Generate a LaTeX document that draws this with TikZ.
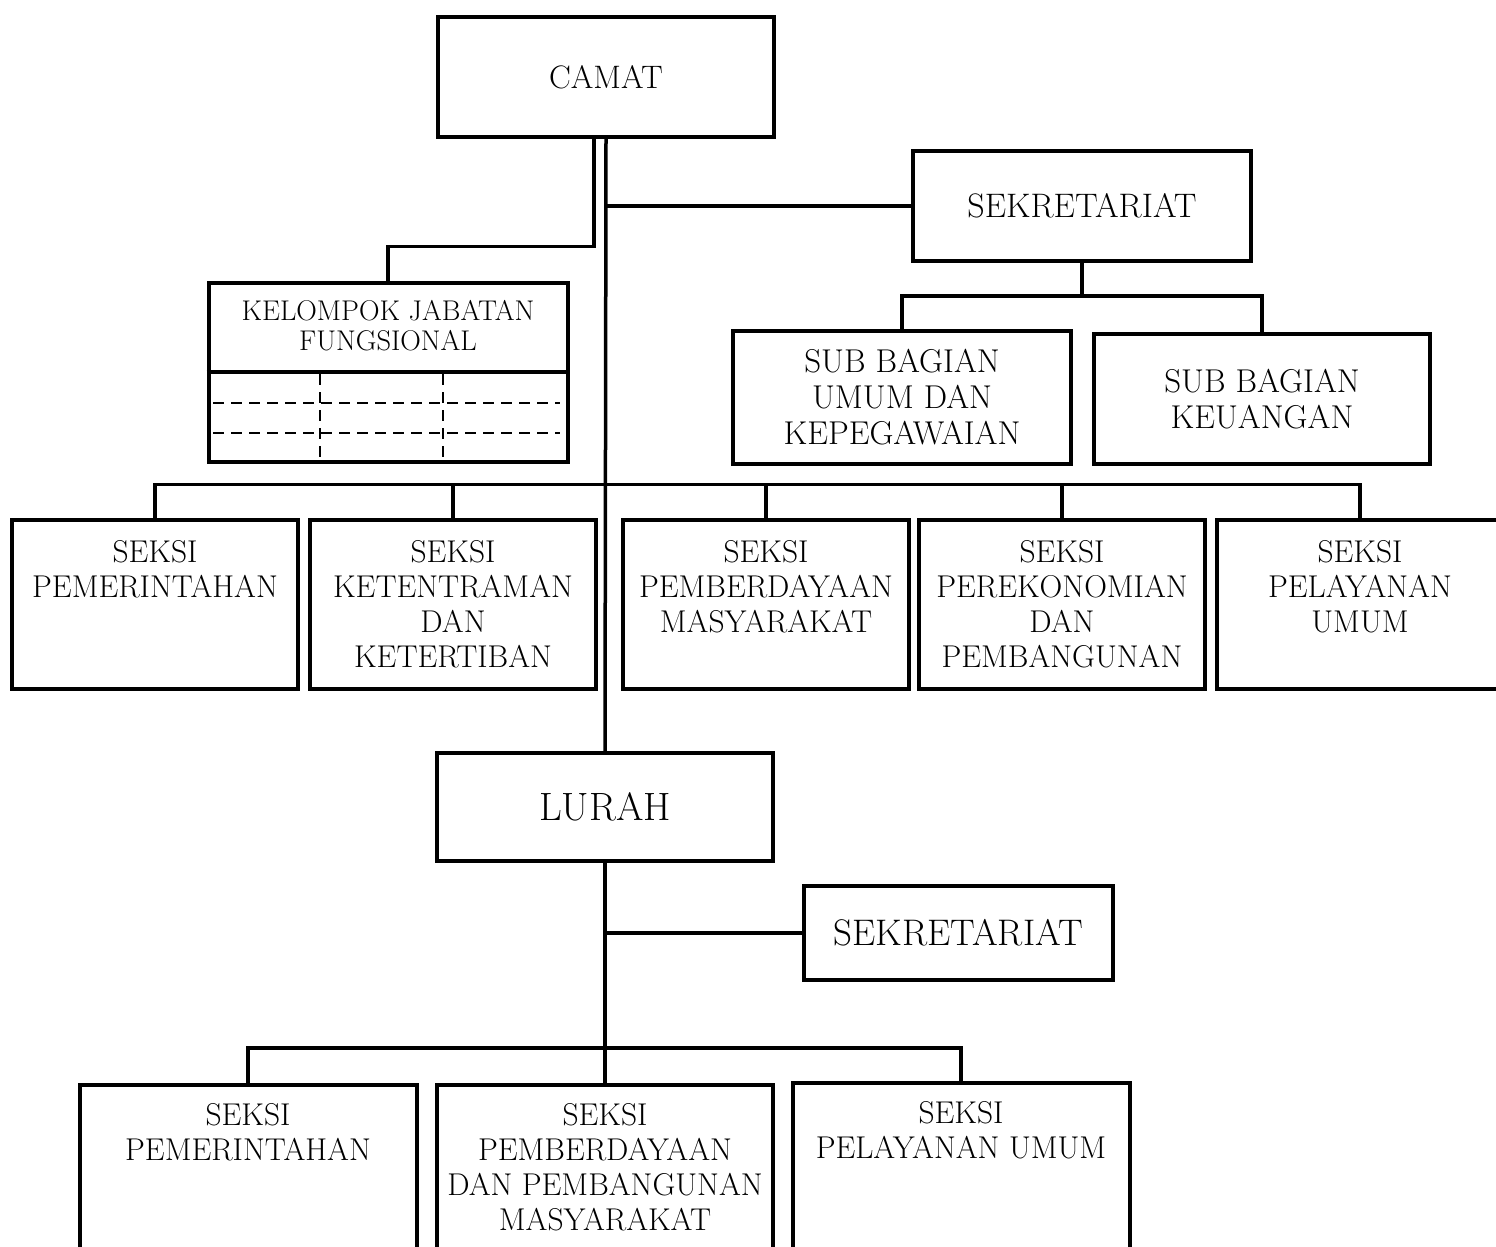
\documentclass[tikz,border=0pt]{standalone}
\usepackage{fontspec}
\usetikzlibrary{positioning}

\begin{document}
\begin{tikzpicture}[x=1pt, y=-1pt,
    unit/.style={rectangle, draw, line width=4pt, inner sep=0pt, align=center},
    seksibox/.style={unit, minimum width=286pt, minimum height=169pt},
    lowbox/.style={unit, minimum width=337pt, minimum height=200pt},
    seksitext/.style={inner sep=0pt, align=center, font=\fontsize{31.5}{35}\selectfont},
    link/.style={line width=3.5pt},
    gridline/.style={line width=2.5pt, dash pattern=on 11pt off 7pt}]
    \clip (0,0) rectangle (1496,1247);

    % kecamatan
    \node (camat) [unit, minimum width=336pt, minimum height=119pt, font=\fontsize{32.5}{36}\selectfont] at (606,77) {CAMAT};
    \node (sekr) [unit, minimum width=338pt, minimum height=110pt, font=\fontsize{34}{38}\selectfont] at (1082,206) {SEKRETARIAT};
    \node (subum) [unit, minimum width=338pt, minimum height=133pt, font=\fontsize{33}{36}\selectfont] at (902,397)
        {SUB BAGIAN\\UMUM DAN\\KEPEGAWAIAN};
    \node (subkeu) [unit, minimum width=336pt, minimum height=130pt, font=\fontsize{33}{36}\selectfont] at (1262,399)
        {SUB BAGIAN\\KEUANGAN};

    \node (kjf) [unit, minimum width=359pt, minimum height=179pt] at (388,372) {};
    \node (kjftext) [inner sep=0pt, align=center, font=\fontsize{28.5}{30}\selectfont] at (388,326)
        {KELOMPOK JABATAN\\FUNGSIONAL};
    \draw [line width=4pt] (kjf.west) -- (kjf.east);
    \draw [gridline] (213,403) -- (560,403);
    \draw [gridline] (213,433) -- (560,433);
    \draw [gridline] (320,374) -- (320,460);
    \draw [gridline] (443,374) -- (443,460);

    \node (s1) [seksibox] at (155,604) {};
    \node (s2) [seksibox] at (453,604) {};
    \node (s3) [seksibox] at (766,604) {};
    \node (s4) [seksibox] at (1062,604) {};
    \node (s5) [seksibox] at (1360,604) {};
    \node (t1) [seksitext, below=23pt of s1.north] {SEKSI\\PEMERINTAHAN};
    \node (t2) [seksitext, below=23pt of s2.north] {SEKSI\\KETENTRAMAN\\DAN\\KETERTIBAN};
    \node (t3) [seksitext, below=23pt of s3.north] {SEKSI\\PEMBERDAYAAN\\MASYARAKAT};
    \node (t4) [seksitext, below=23pt of s4.north] {SEKSI\\PEREKONOMIAN\\DAN\\PEMBANGUNAN};
    \node (t5) [seksitext, below=23pt of s5.north] {SEKSI\\PELAYANAN\\UMUM};

    % kelurahan
    \node (lurah) [unit, minimum width=336pt, minimum height=108pt, font=\fontsize{39.5}{42}\selectfont] at (605,807) {\raisebox{-5pt}{LURAH}};
    \node (sekr2) [unit, minimum width=309pt, minimum height=94pt, font=\fontsize{37}{40}\selectfont] at (958,933) {\raisebox{-5pt}{SEKRETARIAT}};

    \node (b1) [lowbox] at (248,1185) {};
    \node (b2) [lowbox, minimum width=336pt] at (605,1185) {};
    \node (b3) [lowbox] at (961,1183) {};
    \node (u1) [seksitext, below=20pt of b1.north] {SEKSI\\PEMERINTAHAN};
    \node (u2) [seksitext, below=20pt of b2.north] {SEKSI\\PEMBERDAYAAN\\DAN PEMBANGUNAN\\MASYARAKAT};
    \node (u3) [seksitext, below=20pt of b3.north] {SEKSI\\PELAYANAN UMUM};

    % garis
    \draw [link] (camat.south) -- (lurah.north);
    \draw [link] ([xshift=-12pt]camat.south) -- ++(0,108) -| (kjf.north);
    \draw [link] (camat.south |- sekr.west) -- (sekr.west);
    \draw [link] (sekr.south) -- ++(0,33) coordinate (sekrbar);
    \draw [link] (subum.north) |- (sekrbar) -| (subkeu.north);
    \draw [link] (s1.north) -- ++(0,-33) coordinate (seksibar) -| (s5.north);
    \draw [link] (s2.north) -- (s2.north |- seksibar);
    \draw [link] (s3.north) -- (s3.north |- seksibar);
    \draw [link] (s4.north) -- (s4.north |- seksibar);

    \draw [link] (lurah.south) -- (b2.north);
    \draw [link] (lurah.south |- sekr2.west) -- (sekr2.west);
    \draw [link] (b1.north) -- ++(0,-35) coordinate (lurahbar) -| (b3.north);
\end{tikzpicture}
\end{document}
